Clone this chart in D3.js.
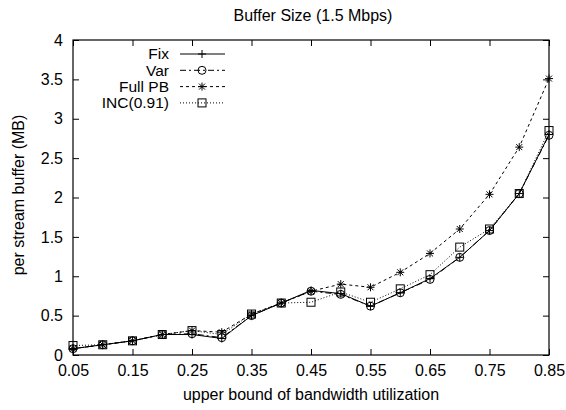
<!DOCTYPE html>
<html>
<head>
<meta charset="utf-8">
<script src="https://cdn.jsdelivr.net/npm/d3@7"></script>
<style>
  body { margin: 0; background: #fff; }
  text { font-family: "Liberation Sans", Arial, sans-serif; fill: #000; }
</style>
</head>
<body>
<svg id="chart" width="566" height="410"></svg>
<script>
var xValues = [0.05, 0.1, 0.15, 0.2, 0.25, 0.3, 0.35, 0.4, 0.45, 0.5, 0.55, 0.6, 0.65, 0.7, 0.75, 0.8, 0.85];
var fixValues = [0.08, 0.13, 0.18, 0.26, 0.26, 0.21, 0.50, 0.66, 0.82, 0.78, 0.62, 0.79, 0.97, 1.24, 1.58, 2.05, 2.80];
var varValues = [0.08, 0.13, 0.18, 0.26, 0.27, 0.22, 0.50, 0.66, 0.81, 0.77, 0.62, 0.79, 0.96, 1.24, 1.58, 2.05, 2.79];
var fullPbValues = [0.08, 0.13, 0.18, 0.26, 0.31, 0.29, 0.52, 0.66, 0.81, 0.90, 0.86, 1.05, 1.29, 1.60, 2.04, 2.64, 3.51];
var incValues = [0.12, 0.13, 0.18, 0.26, 0.31, 0.26, 0.52, 0.66, 0.67, 0.80, 0.67, 0.84, 1.02, 1.37, 1.60, 2.05, 2.85];
var xTicks = [0.05, 0.15, 0.25, 0.35, 0.45, 0.55, 0.65, 0.75, 0.85];
var yTicks = [0, 0.5, 1, 1.5, 2, 2.5, 3, 3.5, 4];

var series = [
  { name: 'Fix', values: fixValues, dash: null, marker: 'plus' },
  { name: 'Var', values: varValues, dash: '6,3,2,3', marker: 'circle' },
  { name: 'Full PB', values: fullPbValues, dash: '3,3', marker: 'star' },
  { name: 'INC(0.91)', values: incValues, dash: '1,2', marker: 'square' }
];

var plotL = 73, plotR = 549, plotT = 40, plotB = 355;
var svg = d3.select('#chart');

var x = d3.scaleLinear().domain([0.05, 0.85]).range([plotL, plotR]);
var y = d3.scaleLinear().domain([0, 4]).range([plotB, plotT]);

// axes, gnuplot style: inward ticks mirrored on the opposite side
var fmt = function (d) { return String(d); };
var tl = 6;
svg.append('g').attr('transform', 'translate(0,' + plotB + ')')
  .call(d3.axisBottom(x).tickValues(xTicks).tickFormat(fmt).tickSizeInner(-tl).tickSizeOuter(0).tickPadding(10));
svg.append('g').attr('transform', 'translate(0,' + plotT + ')')
  .call(d3.axisTop(x).tickValues(xTicks).tickFormat('').tickSizeInner(-tl).tickSizeOuter(0));
svg.append('g').attr('transform', 'translate(' + plotL + ',0)')
  .call(d3.axisLeft(y).tickValues(yTicks).tickFormat(fmt).tickSizeInner(-tl).tickSizeOuter(0).tickPadding(10));
svg.append('g').attr('transform', 'translate(' + plotR + ',0)')
  .call(d3.axisRight(y).tickValues(yTicks).tickFormat('').tickSizeInner(-tl).tickSizeOuter(0));
svg.selectAll('.domain').remove();
svg.selectAll('.tick line').attr('stroke', '#000');
svg.selectAll('.tick text').style('font-size', '16px').attr('fill', '#000');

svg.append('rect')
  .attr('x', plotL).attr('y', plotT)
  .attr('width', plotR - plotL).attr('height', plotB - plotT)
  .attr('fill', 'none').attr('stroke', '#000').attr('stroke-width', 1.2);

function drawMarker(g, type, cx, cy) {
  var s = 4;
  if (type === 'plus' || type === 'star') {
    g.append('path').attr('d', 'M' + (cx - s) + ',' + cy + 'H' + (cx + s) + 'M' + cx + ',' + (cy - s) + 'V' + (cy + s))
      .attr('stroke', '#000').attr('fill', 'none');
  }
  if (type === 'star') {
    var d = 3;
    g.append('path').attr('d', 'M' + (cx - d) + ',' + (cy - d) + 'L' + (cx + d) + ',' + (cy + d) + 'M' + (cx - d) + ',' + (cy + d) + 'L' + (cx + d) + ',' + (cy - d))
      .attr('stroke', '#000').attr('fill', 'none');
  }
  if (type === 'circle') {
    g.append('circle').attr('cx', cx).attr('cy', cy).attr('r', 4)
      .attr('stroke', '#000').attr('fill', 'none');
  }
  if (type === 'square') {
    g.append('rect').attr('x', cx - 4).attr('y', cy - 4).attr('width', 8).attr('height', 8)
      .attr('stroke', '#000').attr('fill', 'none');
  }
}

var line = d3.line().x(function (d, i) { return x(xValues[i]); }).y(function (d) { return y(d); });

series.forEach(function (s, k) {
  var g = svg.append('g');
  g.append('path').datum(s.values)
    .attr('d', line).attr('fill', 'none').attr('stroke', '#000').attr('stroke-width', 1)
    .attr('stroke-dasharray', s.dash);
  s.values.forEach(function (v, i) { drawMarker(g, s.marker, x(xValues[i]), y(v)); });

  // legend row
  var ly = 54 + k * 16.3;
  var lg = svg.append('g');
  lg.append('text').attr('x', 169).attr('y', ly).attr('dy', '0.35em')
    .attr('text-anchor', 'end').style('font-size', '15.5px').text(s.name);
  lg.append('line').attr('x1', 180).attr('x2', 225).attr('y1', ly).attr('y2', ly)
    .attr('stroke', '#000').attr('stroke-dasharray', s.dash);
  drawMarker(lg, s.marker, 202, ly);
});

svg.append('text').attr('x', 313).attr('y', 21)
  .attr('text-anchor', 'middle').style('font-size', '16px').text('Buffer Size (1.5 Mbps)');
svg.append('text').attr('x', (plotL + plotR) / 2).attr('y', 400)
  .attr('text-anchor', 'middle').style('font-size', '16px').text('upper bound of bandwidth utilization');
svg.append('text').attr('transform', 'translate(24,195) rotate(-90)')
  .attr('text-anchor', 'middle').style('font-size', '16px').text('per stream buffer (MB)');
</script>
</body>
</html>
